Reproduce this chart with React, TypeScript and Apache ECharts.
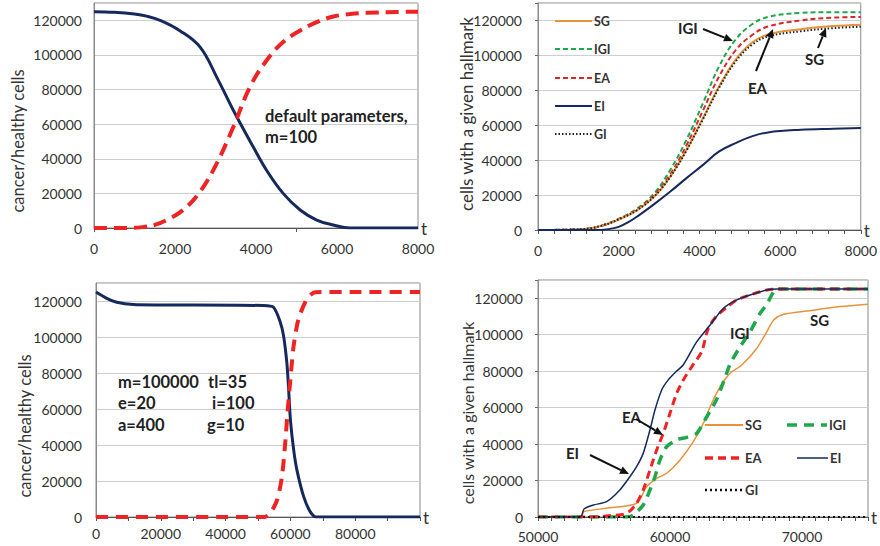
import React, { useEffect, useRef } from "react";
import * as echarts from "echarts";

// ---------- Panel 1 (default parameters, m=100) ----------
const p1HealthyT = [0, 500, 1000, 1300, 1630, 2120, 2620, 3030, 3440, 3930, 4260, 4670, 5090, 5500, 5910, 6320, 7000, 8000];
const p1HealthyV = [125000, 124600, 123600, 122400, 120000, 114000, 104500, 87200, 68000, 46900, 33400, 20000, 10400, 4600, 1700, 0, 0, 0];
const p1CancerT = [0, 800, 1200, 1500, 1790, 2200, 2620, 3030, 3440, 3850, 4260, 4670, 5090, 5500, 5910, 6320, 6730, 7500, 8000];
const p1CancerV = [0, 0, 500, 1800, 4600, 10400, 21000, 37300, 58400, 81400, 96800, 107400, 114100, 118900, 122200, 123600, 124300, 124800, 125000];

// ---------- Panel 2 (hallmarks, default parameters) ----------
const p2T = [0, 1100, 1600, 2070, 2470, 2880, 3280, 3680, 4090, 4490, 4900, 5300, 5700, 6510, 7320, 8000];
const p2SG = [0, 500, 2500, 6700, 11500, 19100, 30600, 45900, 64100, 82300, 97600, 107200, 112000, 115000, 116800, 117600];
const p2GI = [0, 500, 2600, 6800, 11600, 19200, 30500, 45500, 63500, 81500, 96500, 106000, 110800, 113800, 115600, 116400];
const p2EA = [0, 500, 2600, 7000, 12000, 20000, 32000, 48500, 68500, 88000, 103000, 111500, 116500, 120000, 121600, 122000];
const p2IGI = [0, 500, 2700, 7200, 12500, 21000, 34500, 51700, 72700, 93800, 109100, 117700, 122000, 124300, 124700, 124700];
const p2EIT = [0, 1400, 1750, 2000, 2250, 2500, 2880, 3280, 3680, 4090, 4490, 4900, 5300, 5700, 6510, 7320, 8000];
const p2EI = [0, 0, 500, 1800, 4600, 8400, 14800, 22000, 29700, 37300, 45000, 49800, 53600, 55900, 57400, 58000, 58400];

// ---------- Panel 3 (m=100000 ...) ----------
const p3HealthyT = [0, 3300, 6400, 11500, 20000, 51700, 54800, 56900, 57900, 58900, 59400, 60000, 61000, 62000, 64100, 66100, 68000, 80000, 100000];
const p3HealthyV = [125000, 121500, 119300, 118000, 117800, 117500, 116500, 108100, 100600, 85800, 72700, 54100, 37400, 26200, 11300, 3000, 0, 0, 0];
const p3CancerT = [0, 52000, 53800, 55900, 57400, 58400, 59100, 60000, 61000, 62500, 65100, 67700, 80000, 100000];
const p3CancerV = [0, 0, 2000, 9500, 22500, 41100, 57900, 76500, 95100, 110000, 121100, 124900, 125000, 125000];

// ---------- Panel 4 (hallmarks, m=100000 ...) ----------
const p4SGT = [50000, 53300, 53450, 55190, 57470, 58230, 58990, 59750, 60760, 61770, 62530, 63040, 63800, 64550, 65440, 66580, 67340, 67850, 68600, 70380, 72900, 75000];
const p4SG = [0, 0, 2900, 4800, 7500, 16600, 21200, 24000, 31300, 41300, 51400, 60500, 71500, 78800, 83400, 92600, 101700, 108100, 111200, 113000, 115400, 116700];
const p4IGIT = [50000, 56700, 57220, 57970, 58480, 58860, 59240, 59750, 60510, 61270, 62030, 62790, 63500, 64100, 64560, 65320, 66070, 66830, 67340, 67850, 68100, 75000];
const p4IGI = [0, 0, 1100, 6600, 14800, 22100, 31300, 38600, 42300, 43700, 45900, 55000, 64000, 75000, 84000, 93500, 101700, 111800, 116700, 123600, 125000, 125000];
const p4EAT = [50000, 54500, 55500, 56500, 57000, 57470, 57970, 58480, 58990, 59490, 60000, 60510, 61010, 61700, 62400, 62900, 63500, 64300, 65060, 66070, 67340, 68100, 75000];
const p4EA = [0, 0, 800, 1500, 3500, 7500, 14800, 25800, 36800, 45900, 56900, 67900, 75200, 83000, 90700, 103500, 110000, 115000, 119100, 121800, 124500, 125000, 125000];
const p4EIT = [50000, 53200, 53500, 54200, 55200, 56200, 56960, 57470, 57970, 58480, 58860, 59370, 59870, 60500, 61000, 62030, 63040, 64050, 65060, 66070, 67340, 68100, 75000];
const p4EI = [0, 0, 4500, 6600, 8400, 14800, 22100, 27600, 34900, 47700, 58700, 69700, 75200, 80000, 83400, 96200, 105300, 114500, 119100, 121800, 124500, 125000, 125000];
const p4GIT = [50000, 75000];
const p4GI = [0, 0];

// ---------- Axis tick labels ----------
const yLabels = [0, 20000, 40000, 60000, 80000, 100000, 120000];
const x1Labels = [0, 2000, 4000, 6000, 8000];
const x1Ticks = [0, 5000];
const x3Labels = [0, 20000, 40000, 60000, 80000];
const x4Labels = [50000, 60000, 70000];

const FONT = "Lato, 'Liberation Sans', sans-serif";
const NAVY = "#15295d";
const RED = "#ee2424";
const ORANGE = "#e8923a";
const GREEN = "#1fa84b";
const TXT = "#333";

const pairs = (t: number[], v: number[]) => t.map((x, i) => [x, v[i]]);

function arrow(x1: number, y1: number, x2: number, y2: number) {
  const ang = Math.atan2(y2 - y1, x2 - x1);
  const L = 9, W = 4;
  const bx = x2 - L * Math.cos(ang), by = y2 - L * Math.sin(ang);
  const px = -Math.sin(ang) * W, py = Math.cos(ang) * W;
  return [
    { type: "line", z: 100, shape: { x1, y1, x2: bx, y2: by }, style: { stroke: "#111", lineWidth: 2 } },
    { type: "polygon", z: 100, shape: { points: [[x2, y2], [bx + px, by + py], [bx - px, by - py]] }, style: { fill: "#111" } },
  ];
}

function label(text: string, x: number, y: number, size = 15) {
  return {
    type: "text", x, y, z: 100,
    style: { text, font: `bold ${size}px ${FONT}`, fill: "#222", align: "left", verticalAlign: "middle" },
  };
}

function legendItem(name: string, x1: number, x2: number, y: number, stroke: string, lw: number, dash: number[] | null, size: number) {
  const st: any = { stroke, lineWidth: lw };
  if (dash) st.lineDash = dash;
  return [
    { type: "line", z: 100, shape: { x1, y1: y, x2, y2: y }, style: st },
    { type: "text", z: 100, x: x2 + 2, y, style: { text: name, font: `bold ${size}px ${FONT}`, fill: "#333", align: "left", verticalAlign: "middle" } },
  ];
}

function yTitle(text: string, x: number, y: number, size: number) {
  return {
    type: "text", x, y, rotation: Math.PI / 2, z: 100,
    style: { text, font: `${size}px ${FONT}`, fill: TXT, align: "center", verticalAlign: "middle" },
  };
}

function yAxis(gridIndex: number, margin: number, ticks: boolean) {
  return {
    type: "value", gridIndex, min: 0, max: 130000, interval: 20000,
    axisLine: { show: true, lineStyle: { color: "#8a8a8a" } },
    axisTick: { show: ticks, length: 3, lineStyle: { color: "#666" } },
    axisLabel: { customValues: yLabels, margin, formatter: (v: number) => String(v), color: TXT, fontSize: 14, fontFamily: FONT },
    splitLine: { show: true, lineStyle: { color: "#cdcdcd", width: 1 } },
  };
}

function xAxis(gridIndex: number, min: number, max: number, labels: number[], margin: number, tick: any) {
  return {
    type: "value", gridIndex, min, max,
    ...(tick.interval ? { interval: tick.interval } : {}),
    name: "t", nameLocation: "end", nameGap: 3,
    nameTextStyle: { fontSize: 17, color: TXT, fontFamily: FONT, verticalAlign: "middle" },
    axisLine: { show: true, onZero: false, lineStyle: { color: "#555" } },
    axisTick: { show: true, inside: false, length: 4, lineStyle: { color: "#555" }, ...(tick.custom ? { customValues: tick.custom } : {}) },
    axisLabel: { customValues: labels, margin, formatter: (v: number) => String(v), color: TXT, fontSize: 14, fontFamily: FONT },
    splitLine: { show: false },
  };
}

function line(name: string, xi: number, data: number[][], color: string, width: number, dash: any, smooth = 0.4) {
  return {
    type: "line", name, xAxisIndex: xi, yAxisIndex: xi, data,
    showSymbol: false, symbol: "none", smooth,
    lineStyle: { color, width, type: dash || "solid" },
    itemStyle: { color },
  };
}

export default function App() {
  const ref = useRef<HTMLDivElement>(null);
  useEffect(() => {
    if (!ref.current) return;
    const chart = echarts.init(ref.current, null, { renderer: "svg" });
    const grids = [
      { left: 94, top: 3, width: 324, height: 225 },
      { left: 538, top: 3, width: 330, height: 227 },
      { left: 96, top: 283, width: 324, height: 234 },
      { left: 538, top: 280, width: 330, height: 237 },
    ].map((g) => ({ ...g, show: true, borderColor: "#8a8a8a", borderWidth: 1, backgroundColor: "#fff", containLabel: false }));

    const graphic: any[] = [
      yTitle("cancer/healthy cells", 18, 141, 16.5),
      yTitle("cells with a given hallmark", 466, 114, 17),
      yTitle("cancer/healthy cells", 25, 426, 16.5),
      yTitle("cells with a given hallmark", 467, 413, 16),
      label("default parameters,", 265, 116, 16.5),
      label("m=100", 265, 137, 16.5),
      label("m=100000", 118, 382, 16.5),
      label("tl=35", 208, 382, 16.5),
      label("e=20", 118, 403, 16.5),
      label("i=100", 212, 403, 16.5),
      label("a=400", 118, 425, 16.5),
      label("g=10", 207, 425, 16.5),
      label("IGI", 678, 28),
      ...arrow(703, 29, 733, 41),
      label("EA", 748, 88),
      ...arrow(756, 71, 773, 29),
      label("SG", 805, 59),
      ...arrow(818, 48, 826, 28),
      label("IGI", 730, 333),
      label("SG", 810, 320),
      label("EA", 622, 417),
      ...arrow(636, 419, 663, 435),
      label("EI", 566, 453),
      ...arrow(590, 455, 629, 474),
      ...legendItem("SG", 555, 592, 21, ORANGE, 2, null, 12.5),
      ...legendItem("IGI", 555, 592, 49, GREEN, 2, [5, 3], 12.5),
      ...legendItem("EA", 555, 592, 78, "#d9262b", 2, [5, 3], 12.5),
      ...legendItem("EI", 555, 592, 106, NAVY, 2, null, 12.5),
      ...legendItem("GI", 555, 592, 134, "#222", 2, [1.5, 2], 12.5),
      ...legendItem("SG", 705, 743, 425, ORANGE, 2, null, 13),
      ...legendItem("IGI", 787, 827, 425, GREEN, 3.5, [10, 7], 13),
      ...legendItem("EA", 705, 743, 458, RED, 3.5, [8, 5], 13),
      ...legendItem("EI", 797, 828, 458, NAVY, 1.5, null, 13),
      ...legendItem("GI", 705, 743, 490, "#111", 2.5, [2, 3], 13),
    ];

    chart.setOption({
      animation: false,
      backgroundColor: "#fff",
      textStyle: { fontFamily: FONT },
      grid: grids,
      xAxis: [
        xAxis(0, 0, 8000, x1Labels, 13, { custom: x1Ticks }),
        xAxis(1, 0, 8000, x1Labels, 13, { interval: 400 }),
        xAxis(2, 0, 100000, x3Labels, 9, { interval: 10000 }),
        xAxis(3, 50000, 75000, x4Labels, 12, { interval: 1000 }),
      ],
      yAxis: [yAxis(0, 12, false), yAxis(1, 16, true), yAxis(2, 14, false), yAxis(3, 15, true)],
      series: [
        line("healthy", 0, pairs(p1HealthyT, p1HealthyV), NAVY, 3, null),
        line("cancer", 0, pairs(p1CancerT, p1CancerV), RED, 4, [13, 7]),
        line("IGI", 1, pairs(p2T, p2IGI), GREEN, 2, [5, 3]),
        line("EA", 1, pairs(p2T, p2EA), "#d9262b", 2, [5, 3]),
        line("SG", 1, pairs(p2T, p2SG), ORANGE, 2, null),
        line("GI", 1, pairs(p2T, p2GI), "#222", 2, [1.5, 2]),
        line("EI", 1, pairs(p2EIT, p2EI), NAVY, 2, null),
        line("healthy", 2, pairs(p3HealthyT, p3HealthyV), NAVY, 3, null, 0.25),
        line("cancer", 2, pairs(p3CancerT, p3CancerV), RED, 4, [12, 8], 0.25),
        line("SG", 3, pairs(p4SGT, p4SG), ORANGE, 1.5, null, 0.25),
        line("IGI", 3, pairs(p4IGIT, p4IGI), GREEN, 3.5, [10, 7], 0.25),
        line("EA", 3, pairs(p4EAT, p4EA), RED, 3, [8, 5], 0.25),
        line("EI", 3, pairs(p4EIT, p4EI), NAVY, 1.5, null, 0.25),
        line("GI", 3, pairs(p4GIT, p4GI), "#111", 2, [2, 3], 0),
      ],
      graphic,
    });
    return () => chart.dispose();
  }, []);
  return <div ref={ref} style={{ position: "fixed", left: 0, top: 0, width: 880, height: 546, background: "#fff" }} />;
}
